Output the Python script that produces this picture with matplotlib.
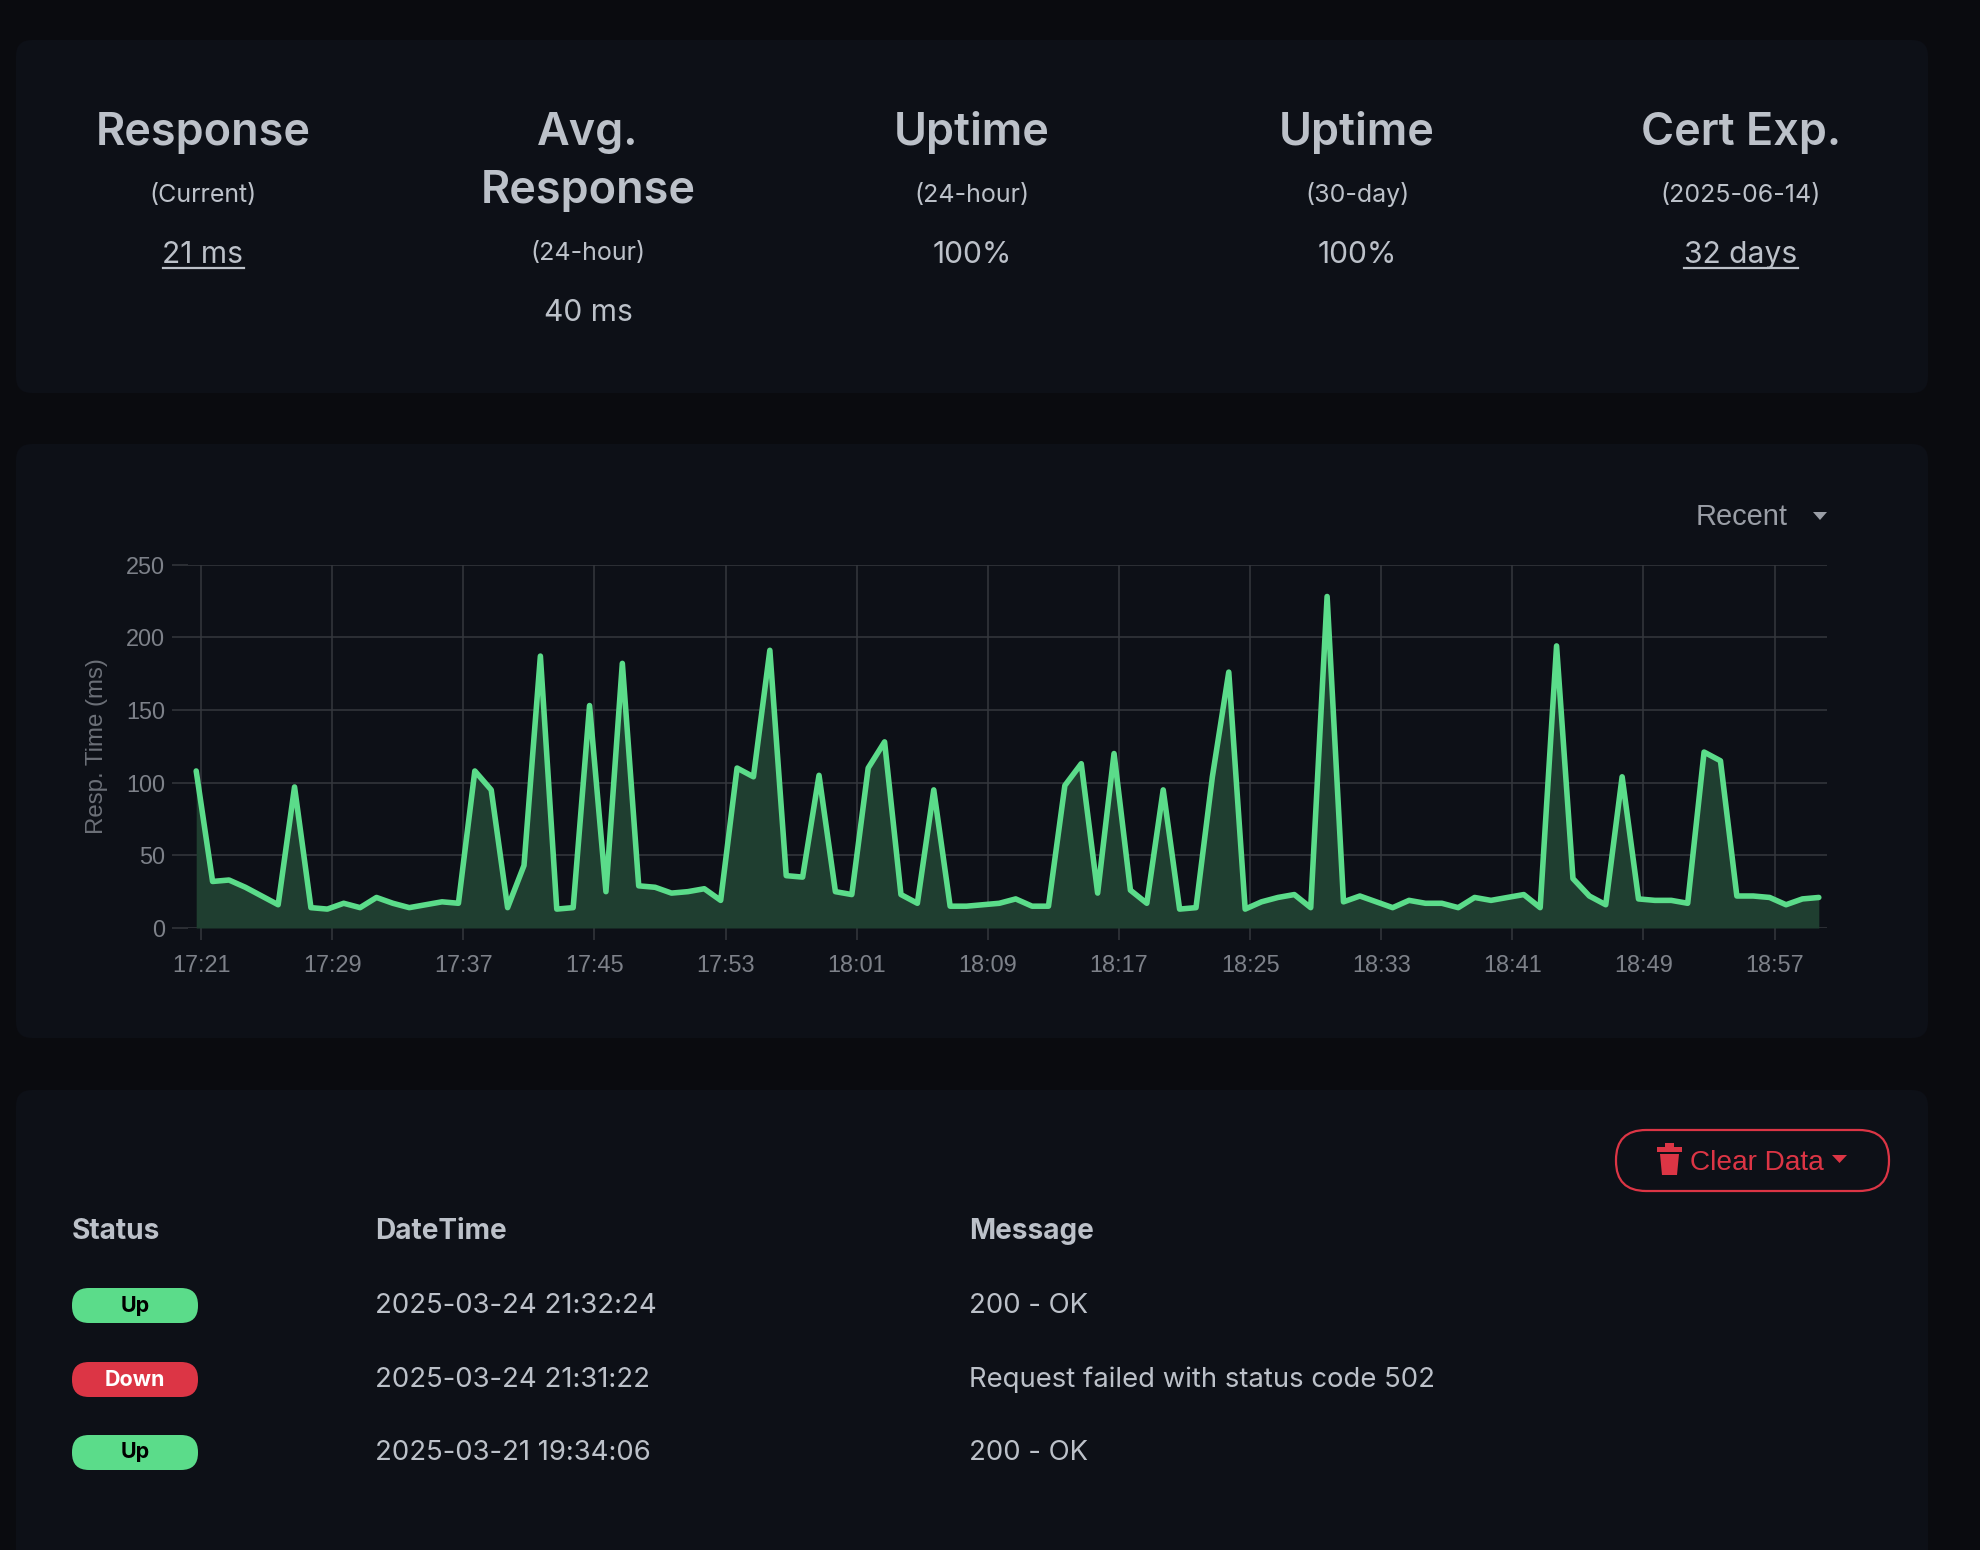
import matplotlib
matplotlib.use("Agg")
import matplotlib.pyplot as plt
import matplotlib.dates as mdates
from matplotlib.patches import FancyBboxPatch, Polygon
import pandas as pd

# ---------------------------------------------------------------- data ---- #
stat_titles = [["Response"], ["Avg.", "Response"], ["Uptime"], ["Uptime"], ["Cert Exp."]]
stat_subtitles = ["(Current)", "(24-hour)", "(24-hour)", "(30-day)", "(2025-06-14)"]
stat_values = ["21 ms", "40 ms", "100%", "100%", "32 days"]
stat_linked = [True, False, False, False, True]

resp_start = "2025-03-24 17:20:42"
resp_ms = [108, 32, 33, 28, 22, 16, 97, 14, 13, 17,
           14, 21, 17, 14, 16, 18, 17, 108, 95, 14,
           43, 187, 13, 14, 153, 25, 182, 29, 28, 24,
           25, 27, 19, 110, 104, 191, 36, 35, 105, 25,
           23, 110, 128, 23, 17, 95, 15, 15, 16, 17,
           20, 15, 15, 98, 113, 24, 120, 26, 17, 95,
           13, 14, 104, 176, 13, 18, 21, 23, 14, 228,
           18, 22, 18, 14, 19, 17, 17, 14, 21, 19,
           21, 23, 14, 194, 34, 22, 16, 104, 20, 19,
           19, 17, 121, 115, 22, 22, 21, 16, 20, 21]
x_tick_labels = ["17:21", "17:29", "17:37", "17:45", "17:53", "18:01", "18:09",
                 "18:17", "18:25", "18:33", "18:41", "18:49", "18:57"]
y_ticks = [0, 50, 100, 150, 200, 250]

event_status = ["Up", "Down", "Up"]
event_time = ["2025-03-24 21:32:24", "2025-03-24 21:31:22", "2025-03-21 19:34:06"]
event_msg = ["200 - OK", "Request failed with status code 502", "200 - OK"]
table_headers = ["Status", "DateTime", "Message"]

# -------------------------------------------------------------- styles ---- #
PAGE_BG = "#0a0b0f"
CARD_BG = "#0d1017"
TXT = "#bcc1c9"
TXT_DIM = "#7d8189"
GRID = "#35383e"
GREEN = "#5bdc8a"
FILL = "#1f3e30"
RED = "#dc3545"
UI_FONT = ["Inter", "DejaVu Sans"]
CHART_FONT = ["Liberation Sans", "DejaVu Sans"]


def pt(px):
    return px * 0.72


fig = plt.figure(figsize=(19.8, 15.5), dpi=100)
fig.patch.set_facecolor(PAGE_BG)

bg = fig.add_axes([0, 0, 1, 1])
bg.set_xlim(0, 1980)
bg.set_ylim(1550, 0)
bg.axis("off")


def card(x, y, w, h):
    bg.add_patch(FancyBboxPatch((x, y), w, h, boxstyle="round,pad=0,rounding_size=16",
                                facecolor=CARD_BG, edgecolor="none", zorder=1))


card(16, 40, 1912, 353)
card(16, 444, 1912, 594)
card(16, 1090, 1912, 520)

# ---------------------------------------------------------- stat cards ---- #
col_x = [203, 588, 972, 1357, 1741]
underlines = []
for cx, titles, sub, val, linked in zip(col_x, stat_titles, stat_subtitles, stat_values, stat_linked):
    y = 145
    for i, line in enumerate(titles):
        if i > 0:
            y += 58
        bg.text(cx, y, line, ha="center", va="baseline", color=TXT, fontsize=pt(45),
                family=UI_FONT, weight="semibold", zorder=3)
    y += 57
    bg.text(cx, y, sub, ha="center", va="baseline", color=TXT, fontsize=pt(25),
            family=UI_FONT, zorder=3)
    y += 61
    t = bg.text(cx, y, val, ha="center", va="baseline", color=TXT, fontsize=pt(30),
                family=UI_FONT, zorder=3)
    if linked:
        underlines.append((t, y))

# ---------------------------------------------------------------- chart --- #
ax = fig.add_axes([188 / 1980, 1 - 928 / 1550, (1827 - 188) / 1980, (928 - 564.5) / 1550])
ax.set_facecolor("none")
ax.set_zorder(2)

times = pd.date_range(resp_start, periods=len(resp_ms), freq="1min")
ax.fill_between(times, resp_ms, 0, color=FILL, linewidth=0, zorder=2)
ax.plot(times, resp_ms, color=GREEN, linewidth=4.0, solid_joinstyle="round",
        solid_capstyle="round", zorder=3)

tick_times = [pd.Timestamp(resp_start[:11] + s) for s in x_tick_labels]
ax.set_xticks(tick_times)
ax.set_xticklabels(x_tick_labels)
ax.set_xlim(times[0] - pd.Timedelta(seconds=30), times[-1] + pd.Timedelta(seconds=30))
ax.set_ylim(0, 250)
ax.set_yticks(y_ticks)
ax.grid(True, color=GRID, linewidth=1.1, zorder=1)
ax.set_axisbelow(True)
for s in ax.spines.values():
    s.set_visible(False)
ax.tick_params(axis="x", length=pt(12), width=1.1, color=GRID, pad=pt(14),
               labelsize=pt(23.5), labelcolor=TXT_DIM)
ax.tick_params(axis="y", length=pt(16), width=1.1, color=GRID, pad=pt(7),
               labelsize=pt(23.5), labelcolor=TXT_DIM)
for lab in ax.get_xticklabels() + ax.get_yticklabels():
    lab.set_family(CHART_FONT)
ax.set_ylabel("Resp. Time (ms)", color="#6c7078", fontsize=pt(24), family=CHART_FONT)
ax.yaxis.set_label_coords(-0.049, 0.5)

bg.text(1788, 525, "Recent", ha="right", va="baseline", color="#9a9ea6",
        fontsize=pt(29), family=CHART_FONT, zorder=3)
bg.add_patch(Polygon([(1813, 512), (1827, 512), (1820, 520)], closed=True,
                     facecolor="#9a9ea6", edgecolor="none", zorder=3))

# ---------------------------------------------------------- event table --- #
bg.add_patch(FancyBboxPatch((1616, 1130), 273, 61, boxstyle="round,pad=0,rounding_size=30",
                            facecolor="none", edgecolor=RED, linewidth=1.6, zorder=3))
# trash icon
bg.add_patch(Polygon([(1660, 1154), (1679, 1154), (1677, 1175), (1662, 1175)], closed=True,
                     facecolor=RED, edgecolor="none", zorder=3))
bg.add_patch(Polygon([(1657, 1147), (1682, 1147), (1682, 1152), (1657, 1152)], closed=True,
                     facecolor=RED, edgecolor="none", zorder=3))
bg.add_patch(Polygon([(1665, 1143), (1674, 1143), (1674, 1147), (1665, 1147)], closed=True,
                     facecolor=RED, edgecolor="none", zorder=3))
bg.text(1690, 1170, "Clear Data", ha="left", va="baseline", color=RED,
        fontsize=pt(28), family=CHART_FONT, zorder=3)
bg.add_patch(Polygon([(1832, 1155), (1847, 1155), (1839.5, 1163)], closed=True,
                     facecolor=RED, edgecolor="none", zorder=3))

head_x = [72, 375, 969]
for hx, h in zip(head_x, table_headers):
    bg.text(hx, 1239, h, ha="left", va="baseline", color=TXT, fontsize=pt(28),
            family=UI_FONT, weight="bold", zorder=3)

row_base = [1313, 1387, 1460]
for yb, st, tm, msg in zip(row_base, event_status, event_time, event_msg):
    up = st == "Up"
    bg.add_patch(FancyBboxPatch((72, yb - 25), 126, 35, boxstyle="round,pad=0,rounding_size=17",
                                facecolor=GREEN if up else RED, edgecolor="none", zorder=3))
    bg.text(135, yb - 7.5, st, ha="center", va="center", color="#000000" if up else "#ffffff",
            fontsize=pt(21.5), family=UI_FONT, weight="bold", zorder=4)
    bg.text(375, yb, tm, ha="left", va="baseline", color=TXT, fontsize=pt(27.5),
            family=UI_FONT, zorder=3)
    bg.text(969, yb, msg, ha="left", va="baseline", color=TXT, fontsize=pt(27.5),
            family=UI_FONT, zorder=3)

# underline the linked values
fig.canvas.draw()
inv = bg.transData.inverted()
for t, yb in underlines:
    ext = t.get_window_extent()
    x0 = inv.transform((ext.x0, ext.y0))[0]
    x1 = inv.transform((ext.x1, ext.y0))[0]
    bg.plot([x0, x1], [yb + 5, yb + 5], color=TXT, linewidth=1.6, zorder=3)

fig.savefig("out.png", dpi=100, facecolor=PAGE_BG)
